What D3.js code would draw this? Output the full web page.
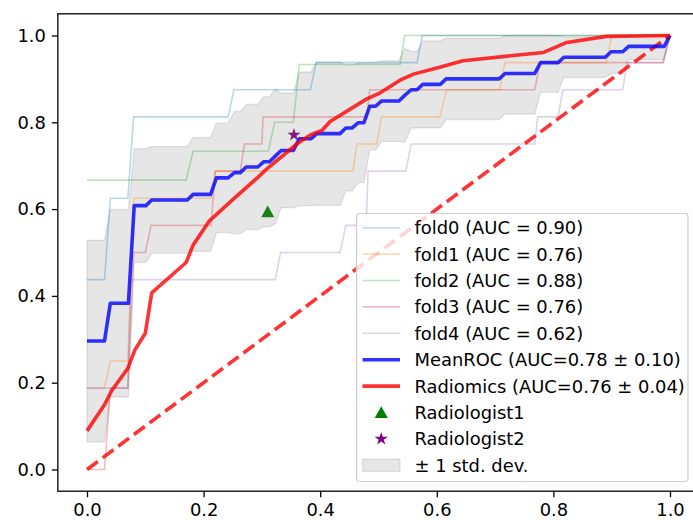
<!DOCTYPE html>
<html><head><meta charset="utf-8">
<script src="https://cdn.jsdelivr.net/npm/d3@7"></script>
<style>body{margin:0;background:#fff}svg{display:block}text{font-family:"DejaVu Sans",sans-serif}</style>
</head><body><svg id="c" width="693" height="520"></svg>
<script>
// ---------- data ----------
const xTicks = [0.0, 0.2, 0.4, 0.6, 0.8, 1.0];
const yTicks = [0.0, 0.2, 0.4, 0.6, 0.8, 1.0];

const fold0Fpr = [0,0.03,0.04,0.07,0.08,0.242,0.252,0.383,0.393,0.566,0.575,1];
const fold0Tpr = [0.4375,0.4375,0.625,0.625,0.8125,0.8125,0.875,0.875,0.9375,0.9375,1,1];
const fold1Fpr = [0,0.03,0.04,0.07,0.08,0.213,0.22,0.456,0.463,0.497,0.505,0.605,0.617,0.708,0.717,0.891,0.9,1];
const fold1Tpr = [0.1875,0.1875,0.25,0.25,0.625,0.625,0.6875,0.6875,0.75,0.75,0.8125,0.8125,0.875,0.875,0.9375,0.9375,1,1];
const fold2Fpr = [0,0.17,0.182,0.311,0.322,0.354,0.364,0.537,0.545,1];
const fold2Tpr = [0.6667,0.6667,0.7333,0.7333,0.8,0.8,0.9333,0.9333,1,1];
const fold3Fpr = [0,0.03,0.04,0.07,0.08,0.1,0.11,0.213,0.22,0.263,0.27,0.3,0.302,0.48,0.485,0.768,0.777,0.988,1];
const fold3Tpr = [0,0,0.1875,0.1875,0.5,0.5,0.5625,0.5625,0.6875,0.6875,0.75,0.75,0.8125,0.8125,0.875,0.875,0.9375,0.9375,1];
const fold4Fpr = [0,0.07,0.075,0.323,0.332,0.434,0.444,0.479,0.482,0.547,0.556,0.768,0.773,0.808,0.816,0.919,0.926,0.988,1];
const fold4Tpr = [0.1875,0.1875,0.4375,0.4375,0.5,0.5,0.5625,0.5625,0.6875,0.6875,0.75,0.75,0.8125,0.8125,0.875,0.875,0.9375,0.9375,1];
const foldLabels = ["fold0 (AUC = 0.90)","fold1 (AUC = 0.76)","fold2 (AUC = 0.88)","fold3 (AUC = 0.76)","fold4 (AUC = 0.62)"];

const meanFpr = [0,0.03,0.04,0.071,0.081,0.101,0.111,0.172,0.182,0.212,0.222,0.242,0.253,0.263,0.273,0.293,0.303,0.313,0.323,0.333,0.354,0.364,0.384,0.394,0.434,0.444,0.455,0.465,0.475,0.485,0.495,0.505,0.535,0.545,0.556,0.566,0.576,0.606,0.616,0.707,0.717,0.768,0.778,0.808,0.818,0.889,0.899,0.919,0.929,0.99,1];
const meanTpr = [0.296,0.296,0.383,0.383,0.608,0.608,0.621,0.621,0.634,0.634,0.672,0.672,0.684,0.684,0.697,0.697,0.709,0.709,0.722,0.735,0.735,0.762,0.762,0.774,0.774,0.787,0.787,0.799,0.799,0.837,0.837,0.849,0.849,0.862,0.875,0.875,0.8875,0.8875,0.9,0.9,0.9125,0.9125,0.9375,0.9375,0.95,0.95,0.9625,0.9625,0.975,0.975,1];
const stdTpr  = [0.232,0.232,0.216,0.216,0.131,0.131,0.123,0.123,0.131,0.131,0.126,0.126,0.141,0.141,0.144,0.144,0.150,0.150,0.155,0.132,0.132,0.154,0.154,0.165,0.165,0.145,0.145,0.138,0.138,0.101,0.101,0.093,0.093,0.108,0.088,0.088,0.1,0.1,0.0935,0.0935,0.0935,0.0935,0.0685,0.0685,0.0468,0.0468,0.05,0.05,0.0306,0.0306,0];
const meanLabel = "MeanROC (AUC=0.78 \u00b1 0.10)";

const radFpr = [0,0.03,0.042,0.07,0.082,0.1,0.111,0.17,0.182,0.21,0.25,0.293,0.308,0.36,0.383,0.403,0.417,0.48,0.503,0.537,0.56,0.605,0.645,0.783,0.823,0.891,1];
const radTpr = [0.089,0.149,0.181,0.233,0.275,0.314,0.407,0.477,0.517,0.573,0.622,0.673,0.692,0.75,0.771,0.781,0.802,0.854,0.868,0.897,0.911,0.927,0.942,0.961,0.984,0.998,1];
const radLabel = "Radiomics (AUC=0.76 \u00b1 0.04)";

const chanceFpr = [0, 1];
const chanceTpr = [0, 1];

const radiologistNames = ["Radiologist1","Radiologist2"];
const radiologistFpr = [0.31, 0.355];
const radiologistTpr = [0.594, 0.771];
const stdLabel = "\u00b1 1 std. dev.";

// ---------- drawing ----------
const foldColors = ["#1f77b4","#ff7f0e","#2ca02c","#d62728","#9467bd"];
const svg = d3.select("#c");
const X = d3.scaleLinear().domain([-0.05,1.05]).range([57.85,699.15]);
const Y = d3.scaleLinear().domain([-0.05,1.05]).range([491.2,13.8]);
const FS = 17.9;

svg.append("defs").append("clipPath").attr("id","clip").append("rect")
  .attr("x",X(-0.05)).attr("y",Y(1.05)).attr("width",X(1.05)-X(-0.05)).attr("height",Y(-0.05)-Y(1.05));
const g = svg.append("g").attr("clip-path","url(#clip)");

const zip = (a,b)=>a.map((v,i)=>[v,b[i]]);
const line = d3.line().x(d=>X(d[0])).y(d=>Y(d[1]));

function trianglePath(r){ return `M0,${-r}L${r*1.05},${r*0.9}L${-r*1.05},${r*0.9}Z`; }
function starPath(r){
  let p=[]; for(let i=0;i<10;i++){const rr=i%2?r*0.382:r; const a=-Math.PI/2+i*Math.PI/5; p.push([rr*Math.cos(a),rr*Math.sin(a)]);}
  return "M"+p.map(q=>q[0].toFixed(2)+","+q[1].toFixed(2)).join("L")+"Z";
}
const markerPaths=[trianglePath(6.2), starPath(7)];
const markerColors=["green","purple"];

// markers
radiologistFpr.forEach((f,i)=>{
  g.append("path").attr("d",markerPaths[i]).attr("fill",markerColors[i])
   .attr("transform",`translate(${X(f)},${Y(radiologistTpr[i])})`);
});

// std band
const band = meanFpr.map((f,i)=>({f, lo:Math.max(meanTpr[i]-stdTpr[i],0), hi:Math.min(meanTpr[i]+stdTpr[i],1)}));
g.append("path").datum(band)
  .attr("d",d3.area().x(d=>X(d.f)).y0(d=>Y(d.lo)).y1(d=>Y(d.hi)))
  .attr("fill","grey").attr("fill-opacity",0.2).attr("stroke","grey").attr("stroke-opacity",0.2).attr("stroke-width",1.4);

// folds
const folds=[[fold0Fpr,fold0Tpr],[fold1Fpr,fold1Tpr],[fold2Fpr,fold2Tpr],[fold3Fpr,fold3Tpr],[fold4Fpr,fold4Tpr]];
folds.forEach((fd,i)=>{
  g.append("path").datum(zip(fd[0],fd[1])).attr("d",line).attr("fill","none")
   .attr("stroke",foldColors[i]).attr("stroke-opacity",0.3).attr("stroke-width",1.6);
});

// chance
g.append("path").datum(zip(chanceFpr,chanceTpr)).attr("d",line).attr("fill","none")
 .attr("stroke","red").attr("stroke-opacity",0.8).attr("stroke-width",3.6).attr("stroke-dasharray","13.5,6");

// mean
g.append("path").datum(zip(meanFpr,meanTpr)).attr("d",line).attr("fill","none")
 .attr("stroke","blue").attr("stroke-opacity",0.8).attr("stroke-width",3.6).attr("stroke-linejoin","round");
// radiomics
g.append("path").datum(zip(radFpr,radTpr)).attr("d",line).attr("fill","none")
 .attr("stroke","red").attr("stroke-opacity",0.8).attr("stroke-width",3.6).attr("stroke-linejoin","round");

// axes
const ax = svg.append("g").attr("transform",`translate(0,${Y(-0.05)})`)
  .call(d3.axisBottom(X).tickValues(xTicks).tickFormat(d3.format(".1f")).tickSize(6).tickPadding(6));
const ay = svg.append("g").attr("transform",`translate(${X(-0.05)},0)`)
  .call(d3.axisLeft(Y).tickValues(yTicks).tickFormat(d3.format(".1f")).tickSize(6).tickPadding(6));
[ax,ay].forEach(a=>{
  a.select(".domain").remove();
  a.selectAll(".tick line").attr("stroke","#000").attr("stroke-width",1.3);
  a.selectAll(".tick text").attr("font-size",FS).attr("fill","#000").attr("font-family","DejaVu Sans");
});
// spines
const sp = svg.append("g").attr("stroke","#000").attr("stroke-width",1.3).attr("fill","none");
sp.append("rect").attr("x",X(-0.05)).attr("y",Y(1.05)).attr("width",X(1.05)-X(-0.05)).attr("height",Y(-0.05)-Y(1.05));

// legend
const lg = svg.append("g");
lg.append("rect").attr("x",356.5).attr("y",213.5).attr("width",331.5).attr("height",268).attr("rx",3.5)
  .attr("fill","white").attr("fill-opacity",0.8).attr("stroke","#cccccc").attr("stroke-width",1.2);
const rowY = i => 227.7 + i*26.4;
const hx0=362.5, hx1=400, tx=414.5;
const entries = [];
foldLabels.forEach((l,i)=>entries.push({type:"line",label:l,color:foldColors[i],op:0.3,w:1.6}));
entries.push({type:"line",label:meanLabel,color:"blue",op:0.8,w:3.6});
entries.push({type:"line",label:radLabel,color:"red",op:0.8,w:3.6});
radiologistNames.forEach((n,i)=>entries.push({type:"marker",label:n,idx:i}));
entries.push({type:"patch",label:stdLabel});
entries.forEach((e,i)=>{
  const cy=rowY(i);
  if(e.type==="line"){
    lg.append("line").attr("x1",hx0).attr("x2",hx1).attr("y1",cy).attr("y2",cy)
      .attr("stroke",e.color).attr("stroke-opacity",e.op).attr("stroke-width",e.w);
  } else if(e.type==="marker"){
    lg.append("path").attr("d",markerPaths[e.idx]).attr("fill",markerColors[e.idx])
      .attr("transform",`translate(${(hx0+hx1)/2},${cy})`);
  } else {
    lg.append("rect").attr("x",hx0).attr("y",cy-6.2).attr("width",hx1-hx0).attr("height",12.4)
      .attr("fill","grey").attr("fill-opacity",0.2).attr("stroke","grey").attr("stroke-opacity",0.2).attr("stroke-width",1.4);
  }
  lg.append("text").attr("x",tx).attr("y",cy).attr("dy","0.36em").attr("font-size",FS).attr("fill","#000").text(e.label);
});
</script></body></html>
